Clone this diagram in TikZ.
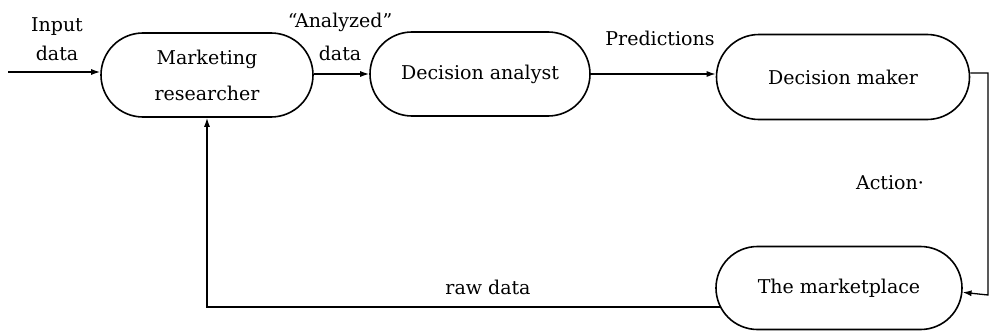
\documentclass[tikz,border=0pt]{standalone}
\usepackage{fontspec}
\setmainfont{DejaVu Serif}
\usetikzlibrary{shapes.misc,arrows.meta}
\begin{document}
\begin{tikzpicture}[x=1pt,y=1pt,
  every node/.style={font=\fontsize{19}{29}\selectfont},
  pill/.style={rounded rectangle, draw, line width=1.6pt, inner sep=0pt, align=center,
    font=\fontsize{19}{36}\selectfont},
  lbl/.style={align=center, inner sep=0pt},
  arr/.style={line width=1.3pt, -{Latex[length=9pt,width=6pt]}}]
\useasboundingbox (0,0) rectangle (989,-332);

% the four actors
\node[pill, minimum width=212, minimum height=84] (mr) at (207,-75) {Marketing\\researcher};
\node[pill, minimum width=220, minimum height=84] (da) at (480,-74) {Decision analyst};
\node[pill, minimum width=253, minimum height=85] (dm) at (843,-77) {Decision maker};
\node[pill, minimum width=246, minimum height=83] (mp) at (839,-288) {The marketplace};

% free ends and bends
\coordinate (in) at (8,-72);
\coordinate (rt) at (988,-73);
\coordinate (rb) at (988,-295);

% flow of information
\draw[arr] (in) -- (in -| mr.west);
\draw[arr] (mr.east |- da.east) -- (da.west);
\draw[arr] (da.east) -- (da.east -| dm.west);
\draw[arr] (dm.east |- rt) -- (rt) -- (rb) -- (mp.-2);
\draw[arr] (mp.189) -- (mp.189 -| mr.south) -- (mr.south);

% labels
\node[lbl] (l1) at (57,-39) {Input\\data};
\node[lbl] (l2) at (340,-37) {“Analyzed”\\[4pt]data};
\node[lbl] (l3) at (660,-38) {Predictions};
\node[lbl] (l4) at (890,-183) {Action·};
\node[lbl] (l5) at (488,-287) {raw data};
\end{tikzpicture}
\end{document}
